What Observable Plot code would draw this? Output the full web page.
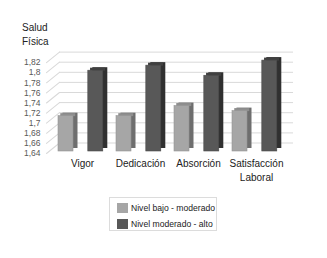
<!DOCTYPE html>
<html>
<head>
<meta charset="utf-8">
<script src="https://cdn.jsdelivr.net/npm/d3@7"></script>
<script src="https://cdn.jsdelivr.net/npm/@observablehq/plot@0.6"></script>
<style>
  html, body { margin: 0; padding: 0; background: #fff; }
  #wrap { position: relative; width: 327px; height: 258px; font-family: "Liberation Sans", Arial, sans-serif; }
  #title { position: absolute; left: 22px; top: 21px; font-size: 10px; line-height: 14px; color: #222; }
  #chart { position: absolute; left: 0; top: 0; }
  #legend { position: absolute; left: 109px; top: 197px; width: 108px; height: 34px; border: 1px solid #dcdcdc; box-sizing: border-box; font-size: 8.6px; color: #222; }
  .item { position: absolute; left: 7px; height: 10px; display: flex; align-items: center; white-space: nowrap; }
  .sw { width: 11px; height: 10px; margin-right: 3px; flex: none; }
</style>
</head>
<body>
<div id="wrap">
  <div id="chart"></div>
  <div id="title">Salud<br>Física</div>
  <div id="legend"></div>
</div>
<script>
const categories = ["Vigor", "Dedicación", "Absorción", "Satisfacción Laboral"];
const categoryLabels = ["Vigor", "Dedicación", "Absorción", "Satisfacción\nLaboral"];
const seriesNames = ["Nivel bajo - moderado", "Nivel moderado - alto"];
const bajo = [1.71, 1.71, 1.73, 1.72];
const alto = [1.80, 1.81, 1.79, 1.82];
const yTicks = [1.64, 1.66, 1.68, 1.70, 1.72, 1.74, 1.76, 1.78, 1.80, 1.82];
const yDomain = [1.64, 1.84];

const seriesValues = [bajo, alto];
const styles = [
  {front: "#a6a6a6", side: "#6e6e6e", top: "#8e8e8e", edge: "#959595", insetLeft: 7, insetRight: 36},
  {front: "#585858", side: "#303030", top: "#404040", edge: "#4a4a4a", insetLeft: 36.8, insetRight: 6.2}
];

const fmt = v => String(+v.toFixed(2)).replace(".", ",");
const lineShape = {draw(context, l) { context.moveTo(0, 0); context.lineTo(0, -l); }};

const marks = [
  Plot.ruleY(yTicks, {y: d => d, dx: 9, dy: -8.5, stroke: "#d9d9d9", strokeWidth: 1}),
  Plot.vector(yTicks, {y: d => d, frameAnchor: "left", dx: -4, dy: 2, anchor: "start", rotate: 51, length: 16.7, shape: lineShape, stroke: "#d9d9d9", strokeWidth: 1}),
  Plot.text(yTicks, {y: d => d, text: d => fmt(d), frameAnchor: "left", textAnchor: "end", dx: -10, dy: 2, fontSize: 8.5, fill: "#595959"})
];

seriesValues.forEach((vals, i) => {
  const s = styles[i];
  const rows = categories.map((c, j) => ({cat: c, value: vals[j], base: yDomain[0]}));
  marks.push(
    Plot.rectY(rows, {x: "cat", y1: "base", y2: "value", insetLeft: s.insetLeft, insetRight: s.insetRight, dx: 4.5, dy: -3, fill: s.side}),
    Plot.tickY(rows, {x: "cat", y: "value", insetLeft: s.insetLeft, insetRight: s.insetRight, dx: 2.25, dy: -1.5, stroke: s.top, strokeWidth: 3}),
    Plot.rectY(rows, {x: "cat", y1: "base", y2: "value", insetLeft: s.insetLeft, insetRight: s.insetRight, fill: s.front, stroke: s.edge, strokeWidth: 0.6})
  );
});

marks.push(
  Plot.text(categories, {x: d => d, text: (d, i) => categoryLabels[i], frameAnchor: "bottom", dy: 6, dx: 2, lineAnchor: "top", lineHeight: 1.4, fontSize: 10, fill: "#222"})
);

const chart = Plot.plot({
  width: 327,
  height: 185,
  marginLeft: 50,
  marginRight: 43,
  marginTop: 50,
  marginBottom: 34,
  style: {fontFamily: "'Liberation Sans', Arial, sans-serif", background: "transparent"},
  x: {domain: categories, padding: 0, axis: null},
  y: {domain: yDomain, axis: null},
  marks
});
document.getElementById("chart").appendChild(chart);

const legend = document.getElementById("legend");
seriesNames.forEach((name, i) => {
  const item = document.createElement("div");
  item.className = "item";
  item.style.top = (i === 0 ? 5 : 21) + "px";
  const sw = document.createElement("div");
  sw.className = "sw";
  sw.style.background = styles[i].front;
  const t = document.createElement("span");
  t.textContent = name;
  item.appendChild(sw);
  item.appendChild(t);
  legend.appendChild(item);
});
</script>
</body>
</html>
